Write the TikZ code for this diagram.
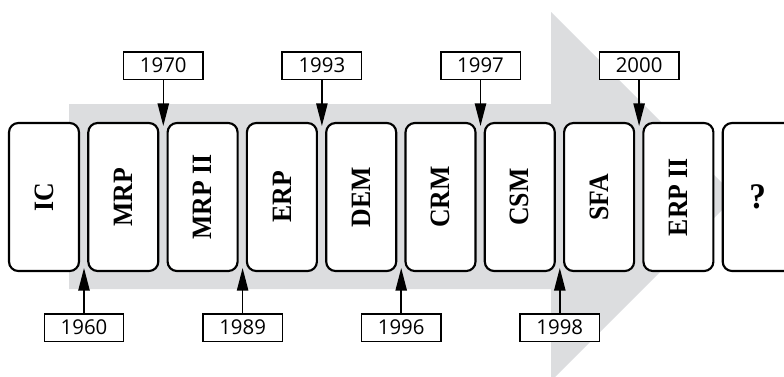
\documentclass[tikz,border=0pt]{standalone}
\usepackage{fontspec}
\usepackage{graphicx}
\newfontfamily\boxfont{Liberation Serif}[FakeStretch=0.92]
\newfontfamily\yearfont{Open Sans}
\usetikzlibrary{arrows.meta}
\definecolor{arrowgray}{RGB}{220,221,223}
\tikzset{
  phase/.style={draw=black, line width=1.6pt, rounded corners=7pt, fill=white,
    minimum width=52.5pt, minimum height=111pt, inner sep=0pt,
    font=\boxfont\bfseries\fontsize{21}{21}\selectfont},
  year/.style={draw=black, line width=1.1pt, fill=white,
    minimum width=59.6pt, minimum height=20.6pt, inner sep=0pt,
    font=\yearfont\fontsize{15.3}{15.3}\selectfont},
  conn/.style={line width=1.1pt, -{Triangle[length=17pt,width=8.5pt]}}
}
\begin{document}
\begin{tikzpicture}[x=0.75pt,y=-0.75pt]
\path[use as bounding box] (0,0) rectangle (784,376);
\clip (0,0) rectangle (784,376);
\fill[arrowgray] (69,104) -- (551,104) -- (551,12) -- (735.5,196.5) -- (551,381) -- (551,289) -- (69,289) -- cycle;
\foreach \t [count=\i from 0] in {IC,MRP,MRP II,ERP,DEM,CRM,CSM,SFA,ERP II}
  \node[phase] (b\i) at ({44+79.3*\i},197) {\rotatebox{90}{\t}};
\node[phase] (b9) at ({44+79.3*9},197) {\fontsize{27}{27}\selectfont ?};
% bottom years
\node[year] (y1960) at (84,327.5) {1960};
\coordinate (t1960) at (84,268);
\draw[conn] (y1960) -- (t1960);
\node[year] (y1989) at (242.6,327.5) {1989};
\coordinate (t1989) at (242.6,268);
\draw[conn] (y1989) -- (t1989);
\node[year] (y1996) at (401.2,327.5) {1996};
\coordinate (t1996) at (401.2,268);
\draw[conn] (y1996) -- (t1996);
\node[year] (y1998) at (559.8,327.5) {1998};
\coordinate (t1998) at (559.8,268);
\draw[conn] (y1998) -- (t1998);
% top years
\node[year] (y1970) at (163.3,65.5) {1970};
\coordinate (t1970) at (163.3,126);
\draw[conn] (y1970) -- (t1970);
\node[year] (y1993) at (321.9,65.5) {1993};
\coordinate (t1993) at (321.9,126);
\draw[conn] (y1993) -- (t1993);
\node[year] (y1997) at (480.5,65.5) {1997};
\coordinate (t1997) at (480.5,126);
\draw[conn] (y1997) -- (t1997);
\node[year] (y2000) at (639.1,65.5) {2000};
\coordinate (t2000) at (639.1,126);
\draw[conn] (y2000) -- (t2000);
\end{tikzpicture}
\end{document}
